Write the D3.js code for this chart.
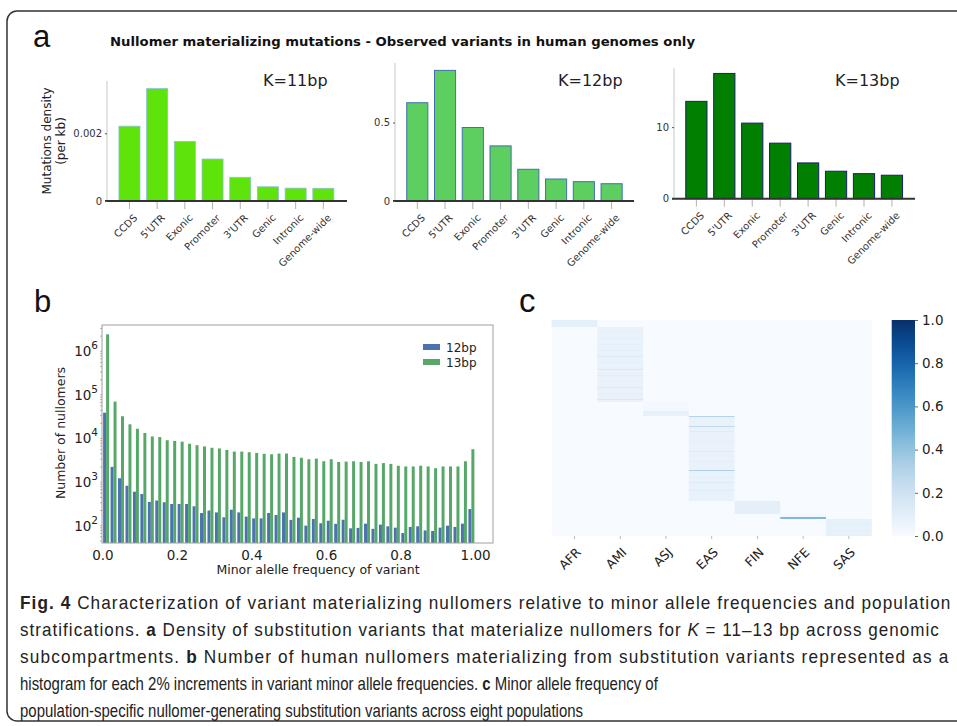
<!DOCTYPE html>
<html><head><meta charset="utf-8">
<script src="https://cdn.jsdelivr.net/npm/d3@7"></script>
<style>body{margin:0;background:#fff}svg{display:block}</style>
</head><body>
<svg id="fig" width="957" height="726"></svg>
<script>
// ---------------- DATA ----------------
const categories = ["CCDS","5'UTR","Exonic","Promoter","3'UTR","Genic","Intronic","Genome-wide"];
const densityK11 = [0.00221, 0.00332, 0.00176, 0.00124, 0.00070, 0.00042, 0.00038, 0.000375];
const densityK12 = [0.626, 0.832, 0.468, 0.351, 0.202, 0.140, 0.123, 0.110];
const densityK13 = [13.6, 17.5, 10.56, 7.76, 5.0, 3.84, 3.5, 3.28];
const kLabels = ["K=11bp", "K=12bp", "K=13bp"];
const densityTicks = [[0, 0.002], [0, 0.5], [0, 10]];
const densityTickLabels = [["0", "0.002"], ["0", "0.5"], ["0", "10"]];

const nullomers12 = [35000,2000,1100,740,540,480,315,340,310,283,283,283,250,175,200,181,140,209,181,145,
  132,132,176,158,181,122,137,90,128,102,117,99,123,78,80,100,76,95,87,81,61,84,87,70,68,81,90,84,100,216];
const nullomers13 = [2200000,63000,29000,19000,15000,12000,10000,9700,8200,7900,7600,6800,6300,5900,
  5500,5300,4900,4500,4500,4350,4200,4000,3900,4050,4050,3400,3250,3000,3100,2700,3000,2600,2650,
  2700,2600,2700,2350,2450,2350,2130,2050,2050,2130,2050,1870,2050,2050,2050,2700,5100];
const binWidth = 0.02;
const mafTicks = [0, 0.2, 0.4, 0.6, 0.8, 1.0];
const mafTickLabels = ["0.0", "0.2", "0.4", "0.6", "0.8", "1.00"];
const logTicks = [1e2, 1e3, 1e4, 1e5, 1e6];
const logTickExp = ["2", "3", "4", "5", "6"];
const seriesNames = ["12bp", "13bp"];

const populations = ["AFR","AMI","ASJ","EAS","FIN","NFE","SAS"];
// runs of heatmap rows: [population index, MAF value, number of rows]
const heatRuns = [
  [0,0.09,7],
  [1,0.07,5],[1,0.10,1],[1,0.07,5],[1,0.10,1],[1,0.07,5],[1,0.09,1],[1,0.07,5],[1,0.10,1],
  [1,0.07,5],[1,0.15,1],[1,0.07,5],[1,0.10,1],[1,0.07,6],[1,0.15,1],[1,0.07,5],[1,0.10,1],
  [1,0.07,5],[1,0.09,1],[1,0.07,5],[1,0.15,1],[1,0.07,5],[1,0.10,1],[1,0.07,5],[1,0.15,1],[1,0.07,2],
  [2,0.02,9],[2,0.08,5],
  [3,0.30,1],[3,0.07,9],[3,0.26,1],[3,0.07,4],[3,0.12,1],[3,0.07,9],[3,0.10,1],[3,0.07,9],
  [3,0.12,1],[3,0.07,9],[3,0.10,1],[3,0.07,8],[3,0.32,1],[3,0.07,6],[3,0.10,1],[3,0.07,4],
  [3,0.13,1],[3,0.07,7],[3,0.12,1],[3,0.07,10],
  [4,0.09,6],[4,0.11,1],[4,0.09,6],
  [5,0.02,3],[5,0.45,2],
  [6,0.08,5],[6,0.10,1],[6,0.08,5],[6,0.10,1],[6,0.08,5]
];
const colorbarTicks = [0, 0.2, 0.4, 0.6, 0.8, 1.0];

// ---------------- DRAW ----------------
const svg = d3.select("#fig");
const FONT = "'DejaVu Sans', Verdana, sans-serif";

svg.append("rect").attr("x", 7).attr("y", 11).attr("width", 1000).attr("height", 710)
  .attr("rx", 10).attr("fill", "none").attr("stroke", "#333").attr("stroke-width", 1.5);

svg.append("text").attr("x", 33).attr("y", 47).text("a")
  .style("font-family", "'Liberation Sans', Arial, sans-serif").style("font-size", "31px").attr("fill", "#111");
svg.append("text").attr("x", 34).attr("y", 312).text("b")
  .style("font-family", "'Liberation Sans', Arial, sans-serif").style("font-size", "31px").attr("fill", "#111");
svg.append("text").attr("x", 519).attr("y", 312).text("c")
  .style("font-family", "'Liberation Sans', Arial, sans-serif").style("font-size", "33px").attr("fill", "#111");

svg.append("text").attr("x", 110).attr("y", 46)
  .attr("textLength", 585).attr("lengthAdjust", "spacingAndGlyphs")
  .style("font-family", FONT).style("font-weight", "bold").style("font-size", "12px").attr("fill", "#111")
  .text("Nullomer materializing mutations - Observed variants in human genomes only");

const yl = svg.append("text").attr("transform", "translate(51,141) rotate(-90)")
  .attr("text-anchor", "middle").style("font-family", FONT).style("font-size", "12px").attr("fill", "#222");
yl.append("tspan").attr("x", 0).attr("dy", 0).text("Mutations density");
yl.append("tspan").attr("x", 0).attr("dy", 14).text("(per kb)");

const panelsA = [
  {vals: densityK11, spineX: 107, top: 81, base: 201, ymax: 0.003545, xr: [115.6, 337.2], bx: [105, 347],
   fill: "#5ee40b", stroke: "#8fbfd8", sw: 0.8, k: 0, kx: 263},
  {vals: densityK12, spineX: 395, top: 63, base: 201, ymax: 0.879, xr: [403.4, 625.5], bx: [393, 634],
   fill: "#5ccf60", stroke: "#3f6fae", sw: 1, k: 1, kx: 558},
  {vals: densityK13, spineX: 674, top: 68, base: 198.7, ymax: 18.26, xr: [682.4, 905.9], bx: [672, 915],
   fill: "#007f00", stroke: "#1c1c6e", sw: 1, k: 2, kx: 835}
];

panelsA.forEach((p, i) => {
  const x = d3.scaleBand().domain(categories).range(p.xr).paddingInner(0.24).paddingOuter(0.12);
  const y = d3.scaleLinear().domain([0, p.ymax]).range([p.base, p.top]);
  const g = svg.append("g");
  g.append("line").attr("x1", p.spineX).attr("x2", p.spineX).attr("y1", p.top).attr("y2", p.base)
    .attr("stroke", "#c8c8c8").attr("stroke-width", 1);
  const xa = g.append("g").attr("transform", `translate(0,${p.base})`)
    .call(d3.axisBottom(x).tickSize(8).tickSizeOuter(0));
  xa.select(".domain").remove();
  xa.selectAll(".tick line").attr("stroke", "#b0b0b0");
  xa.selectAll(".tick text")
    .attr("y", 0).attr("dy", "0.35em")
    .attr("transform", "translate(6,15) rotate(-45)")
    .style("text-anchor", "end").style("font-family", FONT).style("font-size", "10px").attr("fill", "#333");
  g.selectAll("rect.bar").data(p.vals).join("rect").attr("class", "bar")
    .attr("x", (d, j) => x(categories[j])).attr("width", x.bandwidth())
    .attr("y", d => y(d)).attr("height", d => y(0) - y(d))
    .attr("fill", p.fill).attr("stroke", p.stroke).attr("stroke-width", p.sw);
  g.append("line").attr("x1", p.bx[0]).attr("x2", p.bx[1]).attr("y1", y(0)).attr("y2", y(0))
    .attr("stroke", "#333").attr("stroke-width", 2);
  const ya = g.append("g").attr("transform", `translate(${p.spineX},0)`)
    .call(d3.axisLeft(y).tickValues(densityTicks[i]).tickFormat((d, j) => densityTickLabels[i][j]).tickSize(2).tickPadding(3));
  ya.select(".domain").remove();
  ya.selectAll(".tick line").attr("stroke", "#555");
  ya.selectAll(".tick text").style("font-family", FONT).style("font-size", "10px").attr("fill", "#333");
  g.append("text").attr("x", p.kx).attr("y", 86).text(kLabels[p.k])
    .style("font-family", FONT).style("font-size", "16px").attr("fill", "#222");
});

// ---------------- panel b ----------------
{
  const left = 102, right = 493, top = 325, bottom = 543;
  const x = d3.scaleLinear().domain([-0.001, 1.048]).range([left, right]);
  const y = d3.scaleLog().domain([36, 3.6e6]).range([bottom, top]);
  const g = svg.append("g");
  const bins = nullomers12.map((d, i) => i * binWidth);
  const colors = ["#4c72b0", "#55a868"];
  [nullomers12, nullomers13].forEach((series, s) => {
    g.selectAll(`rect.s${s}`).data(series).join("rect").attr("class", `s${s}`)
      .attr("x", (d, i) => x(bins[i] + binWidth * (0.1 + 0.4 * s)))
      .attr("width", x(binWidth * 0.4) - x(0))
      .attr("y", d => y(d)).attr("height", d => bottom - y(d))
      .attr("fill", colors[s]);
  });
  g.append("rect").attr("x", left).attr("y", top).attr("width", right - left).attr("height", bottom - top)
    .attr("fill", "none").attr("stroke", "#a0a0a0").attr("stroke-width", 1);
  const xa = g.append("g").attr("transform", `translate(0,${bottom})`)
    .call(d3.axisBottom(x).tickValues(mafTicks).tickFormat((d, i) => mafTickLabels[i]).tickSize(0).tickPadding(7));
  xa.select(".domain").remove();
  xa.selectAll(".tick text").style("font-family", FONT).style("font-size", "13.5px").attr("fill", "#222");
  g.append("text").attr("x", 318).attr("y", 574).attr("text-anchor", "middle")
    .style("font-family", FONT).style("font-size", "12.5px").attr("fill", "#222")
    .text("Minor alelle frequency of variant");
  const minor = [];
  [1, 2, 3, 4, 5, 6].forEach(e => [2,3,4,5,6,7,8,9].forEach(m => { const v = m * Math.pow(10, e); if (v > 36 && v < 3.6e6) minor.push(v); }));
  g.selectAll("line.minor").data(minor).join("line").attr("class", "minor")
    .attr("x1", left - 2).attr("x2", left).attr("y1", d => y(d)).attr("y2", d => y(d))
    .attr("stroke", "#888").attr("stroke-width", 0.6);
  const yt = g.selectAll("text.yt").data(logTicks).join("text").attr("class", "yt")
    .attr("x", 98).attr("y", d => y(d) + 7).attr("text-anchor", "end")
    .style("font-family", FONT).attr("fill", "#222");
  yt.append("tspan").text("10").style("font-size", "13.5px");
  yt.append("tspan").text((d, i) => logTickExp[i]).attr("dy", -7).style("font-size", "10.5px");
  g.append("text").attr("transform", "translate(65,433) rotate(-90)").attr("text-anchor", "middle")
    .style("font-family", FONT).style("font-size", "12.5px").attr("fill", "#222").text("Number of nullomers");
  seriesNames.forEach((n, i) => {
    g.append("rect").attr("x", 423).attr("y", 344 + i * 15).attr("width", 17).attr("height", 6).attr("fill", colors[i]);
    g.append("text").attr("x", 446).attr("y", 351.5 + i * 15).text(n)
      .style("font-family", FONT).style("font-size", "12px").attr("fill", "#222");
  });
}

// ---------------- panel c ----------------
{
  const left = 551.7, right = 871.7, top = 320, bottom = 536;
  const totalRows = d3.sum(heatRuns, d => d[2]);
  const x = d3.scaleBand().domain(populations).range([left, right]);
  const y = d3.scaleLinear().domain([0, totalRows]).range([top, bottom]);
  const color = d3.scaleSequential(d3.interpolateBlues).domain([0, 1]);
  const g = svg.append("g");
  g.append("rect").attr("x", left).attr("y", top).attr("width", right - left).attr("height", bottom - top)
    .attr("fill", color(0));
  let start = 0;
  const cells = heatRuns.map(r => { const c = {pop: populations[r[0]], v: r[1], s: start, n: r[2]}; start += r[2]; return c; });
  g.selectAll("rect.cell").data(cells).join("rect").attr("class", "cell")
    .attr("x", d => x(d.pop)).attr("width", x.bandwidth())
    .attr("y", d => y(d.s)).attr("height", d => y(d.s + d.n) - y(d.s))
    .attr("fill", d => color(d.v));
  const xa = g.append("g").attr("transform", `translate(0,${bottom})`)
    .call(d3.axisBottom(x).tickSize(3).tickSizeOuter(0));
  xa.select(".domain").remove();
  xa.selectAll(".tick line").attr("stroke", "#bbb");
  xa.selectAll(".tick text").attr("y", 0).attr("dy", "0.35em")
    .attr("transform", "translate(4,14) rotate(-45)").style("text-anchor", "end")
    .style("font-family", FONT).style("font-size", "12.5px").attr("fill", "#222");
  const defs = svg.append("defs");
  const grad = defs.append("linearGradient").attr("id", "cbar").attr("x1", 0).attr("x2", 0).attr("y1", 1).attr("y2", 0);
  grad.selectAll("stop").data(d3.range(0, 1.0001, 0.05)).join("stop")
    .attr("offset", d => d).attr("stop-color", d => color(d));
  const cy = d3.scaleLinear().domain([0, 1]).range([bottom, top]);
  g.append("rect").attr("x", 891.7).attr("y", top).attr("width", 23.3).attr("height", bottom - top).attr("fill", "url(#cbar)");
  const ca = g.append("g").attr("transform", "translate(915,0)")
    .call(d3.axisRight(cy).tickValues(colorbarTicks).tickFormat(d3.format(".1f")).tickSize(3).tickPadding(4));
  ca.select(".domain").remove();
  ca.selectAll(".tick line").attr("stroke", "#666");
  ca.selectAll(".tick text").style("font-family", FONT).style("font-size", "13.5px").attr("fill", "#222");
}

// ---------------- caption ----------------
const CAP = "'Liberation Sans', Arial, sans-serif";
const captionLines = [
  {y: 609, w: 932, justify: true, parts: [["Fig. 4", "b"], [" Characterization of variant materializing nullomers relative to minor allele frequencies and population", ""]]},
  {y: 636, w: 920, justify: true, parts: [["stratifications. ", ""], ["a", "b"], [" Density of substitution variants that materialize nullomers for ", ""], ["K", "i"], [" = 11–13 bp across genomic", ""]]},
  {y: 663, w: 930, justify: true, parts: [["subcompartments. ", ""], ["b", "b"], [" Number of human nullomers materializing from substitution variants represented as a", ""]]},
  {y: 690, w: 625, justify: false, parts: [["histogram for each 2% increments in variant minor allele frequencies. ", ""], ["c", "b"], [" Minor allele frequency of", ""]]},
  {y: 717, w: 575, justify: false, parts: [["population-specific nullomer-generating substitution variants across eight populations", ""]]}
];
const capTexts = captionLines.map(l => {
  const t = svg.append("text").attr("x", 0).attr("y", 0)
    .style("font-family", CAP).style("font-size", "19px").attr("fill", "#222").style("white-space", "pre");
  l.parts.forEach(p => {
    const ts = t.append("tspan").text(p[0]);
    if (p[1] === "b") ts.style("font-weight", "bold");
    if (p[1] === "i") ts.style("font-style", "italic");
  });
  return t;
});
const natural = capTexts.map(t => t.node().getComputedTextLength());
const sx = d3.mean(captionLines.map((l, i) => l.justify ? null : l.w / natural[i]).filter(v => v));
captionLines.forEach((l, i) => {
  const t = capTexts[i];
  let s = sx;
  if (l.justify) {
    // justified lines: part of the stretch goes into glyph width, the rest into letter spacing
    s = sx * Math.sqrt(l.w / (natural[i] * sx));
    const nChars = l.parts.map(p => p[0]).join("").length;
    const extra = (l.w / s - natural[i]) / nChars;
    t.style("letter-spacing", extra + "px");
  }
  t.attr("transform", `translate(20,${l.y}) scale(${s},1)`);
});
</script>
</body></html>
